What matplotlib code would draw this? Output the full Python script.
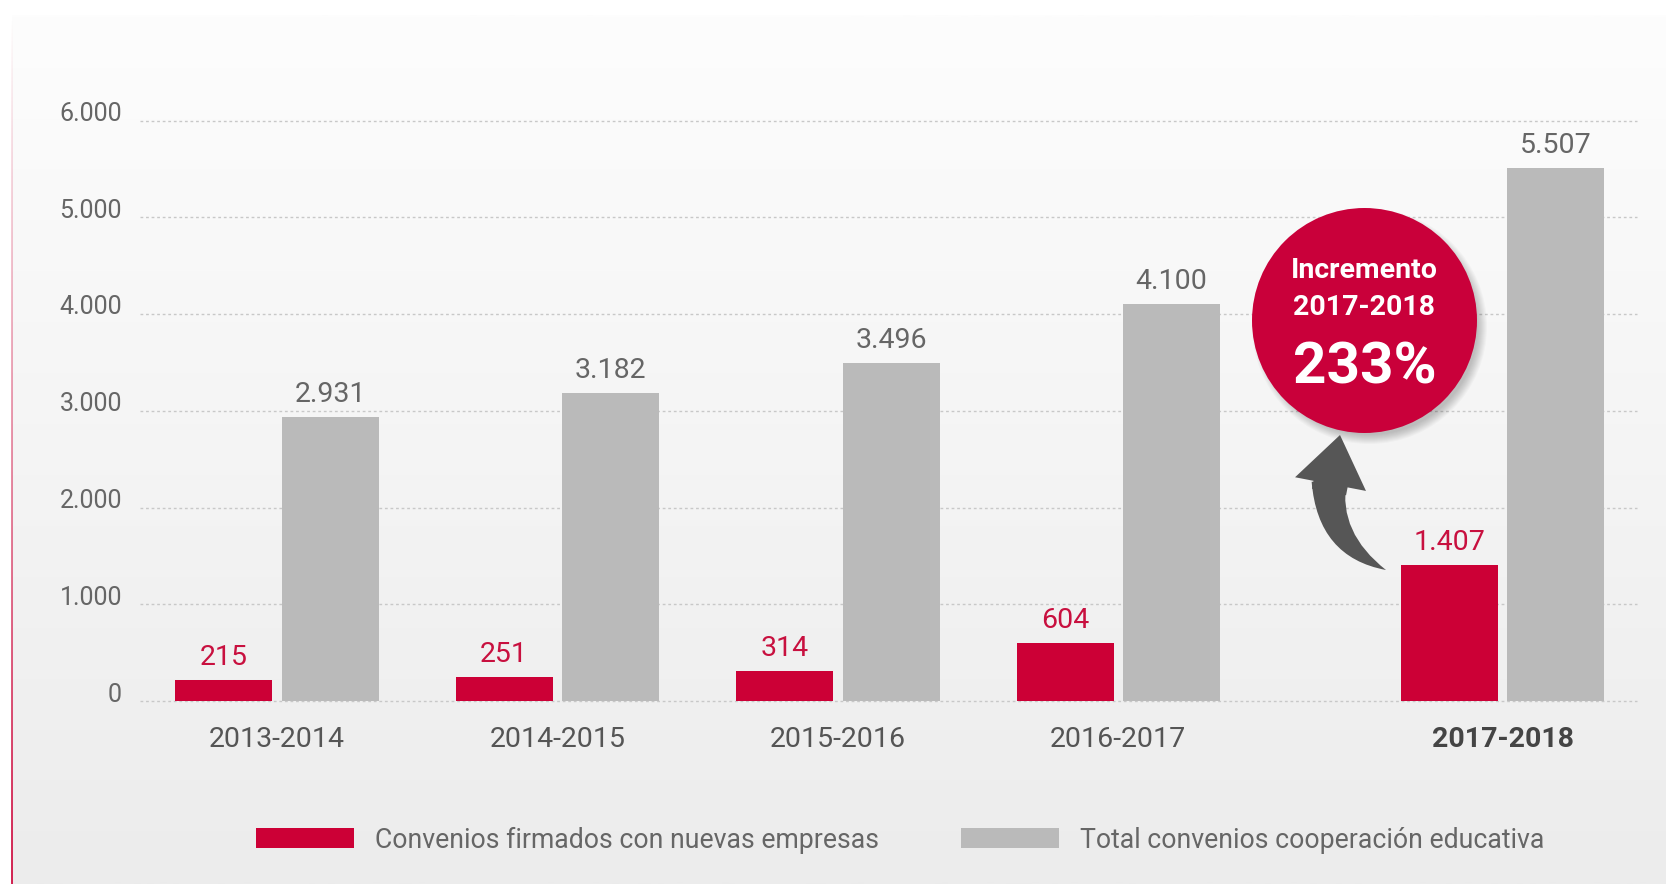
import numpy as np
import matplotlib
matplotlib.use('Agg')
from matplotlib import pyplot as plt
from matplotlib import transforms, colors
from matplotlib.patches import Circle, FancyArrowPatch, Patch
from matplotlib.path import Path

# datos por curso académico
cursos = ['2013-2014', '2014-2015', '2015-2016', '2016-2017', '2017-2018']
nuevas = [215, 251, 314, 604, 1407]
totales = [2931, 3182, 3496, 4100, 5507]
x_pos = [0, 1, 2, 3, 4.37]   # el último curso va algo separado
yticks = [0, 1000, 2000, 3000, 4000, 5000, 6000]
leyenda = ['Convenios firmados con nuevas empresas',
           'Total convenios cooperación educativa']
incremento = 233

ROJO = '#cc0036'
GRIS = '#bababa'
TEXTO = '#666666'
FLECHA = '#565656'


def miles(v):
    # separador de miles con punto
    return f'{v:,}'.replace(',', '.')


W, H = 1666, 884
plt.rcParams['font.family'] = ['Roboto', 'DejaVu Sans']
fig = plt.figure(figsize=(W / 100, H / 100), dpi=100)
t = fig.dpi_scale_trans


def px(x, y):
    # pixeles (origen arriba a la izquierda) -> pulgadas
    return (x / 100, (H - y) / 100)


# fondo degradado + linea roja a la izquierda
bg = fig.add_axes([0, 0, 1, 1], zorder=-2)
grad = np.linspace(253, 236, 256)[:, None, None] * np.ones((1, 1, 3)) / 255
bg.imshow(grad, extent=(12, W, H, 15), aspect='auto', interpolation='bilinear')
linea = np.zeros((256, 1, 4))
linea[..., :3] = colors.to_rgb(ROJO)
linea[..., 3] = np.linspace(0.0, 0.85, 256)[:, None]
bg.imshow(linea, extent=(11.5, 13.5, H, 15), aspect='auto', interpolation='bilinear')
bg.set_xlim(0, W)
bg.set_ylim(H, 0)
bg.axis('off')

# grafico de barras
ax = fig.add_axes([140 / W, 1 - 701 / H, 1497 / W, 580.5 / H])
ax.patch.set_alpha(0)
xs = np.array(x_pos)
ancho = 0.346
desp = 0.19
b1 = ax.bar(xs - desp, nuevas, ancho, color=ROJO, zorder=3)
b2 = ax.bar(xs + desp, totales, ancho, color=GRIS, zorder=3)

for bars, vals, col in [(b1, nuevas, '#c8103f'), (b2, totales, TEXTO)]:
    for b, v in zip(bars, vals):
        ax.annotate(miles(v), (b.get_x() + b.get_width() / 2, v), xytext=(0, 10.8),
                    textcoords='offset points', ha='center', va='baseline',
                    fontsize=20.5, color=col)

ax.set_xlim(-0.488, 4.849)
ax.set_ylim(0, 6000)
ax.set_yticks(yticks)
ax.set_yticklabels([miles(v) for v in yticks])
ax.set_xticks(xs)
ax.set_xticklabels(cursos)
ax.yaxis.grid(True, linestyle=(0, (2, 2)), color='#c8c8c8', linewidth=1)
ax.set_axisbelow(True)
for gl in ax.get_ygridlines():
    gl.set_clip_on(False)
for s in ax.spines.values():
    s.set_visible(False)
ax.tick_params(length=0)
ax.tick_params(axis='y', labelsize=18, labelcolor=TEXTO, pad=13)
ax.tick_params(axis='x', labelsize=20.5, labelcolor='#555555', pad=18)
subir = transforms.ScaledTranslation(0, 9 / 100, t)
for lab in ax.get_yticklabels():
    lab.set_transform(lab.get_transform() + subir)
ult = ax.get_xticklabels()[-1]
ult.set_fontweight('bold')
ult.set_color('#444444')

# circulo con el incremento
cx, cy, r = 1364.5, 320.5, 112.5
for k in range(10):
    fig.add_artist(Circle(px(cx + 5, cy + 6), (r + 5 - k) / 100, transform=t,
                          color='black', alpha=0.025, lw=0))
fig.add_artist(Circle(px(cx, cy), r / 100, transform=t, color='#c9003a', lw=0))
fig.text(*px(cx, 278.3), 'Incremento', transform=t, ha='center', va='baseline',
         fontsize=20.5, fontweight='bold', color='white')
fig.text(*px(cx, 315), '2017-2018', transform=t, ha='center', va='baseline',
         fontsize=20.5, fontweight='bold', color='white')
fig.text(*px(cx, 383), f'{incremento}%', transform=t, ha='center', va='baseline',
         fontsize=42, fontweight='bold', color='white')

# flecha curva
cola = Path([px(1329, 482), px(1328, 545), px(1386, 570)],
            [Path.MOVETO, Path.CURVE3, Path.CURVE3])
fig.add_artist(FancyArrowPatch(path=cola, arrowstyle='wedge,tail_width=25,shrink_factor=0.65',
                               mutation_scale=1, transform=t, color=FLECHA, lw=0))
fig.add_artist(FancyArrowPatch(px(1329, 492), px(1340, 435),
                               arrowstyle='simple,head_length=36,head_width=52,tail_width=25',
                               mutation_scale=1, shrinkA=0, shrinkB=0, transform=t,
                               color=FLECHA, lw=0))

# leyenda
fig.legend(handles=[Patch(facecolor=ROJO), Patch(facecolor=GRIS)], labels=leyenda,
           ncol=2, loc='center', bbox_to_anchor=(900 / W, 1 - 840 / H), frameon=False,
           fontsize=19.2, labelcolor=TEXTO, handlelength=3.67, handleheight=0.75,
           handletextpad=0.79, columnspacing=3.07)

fig.savefig('out.png', dpi=100)
